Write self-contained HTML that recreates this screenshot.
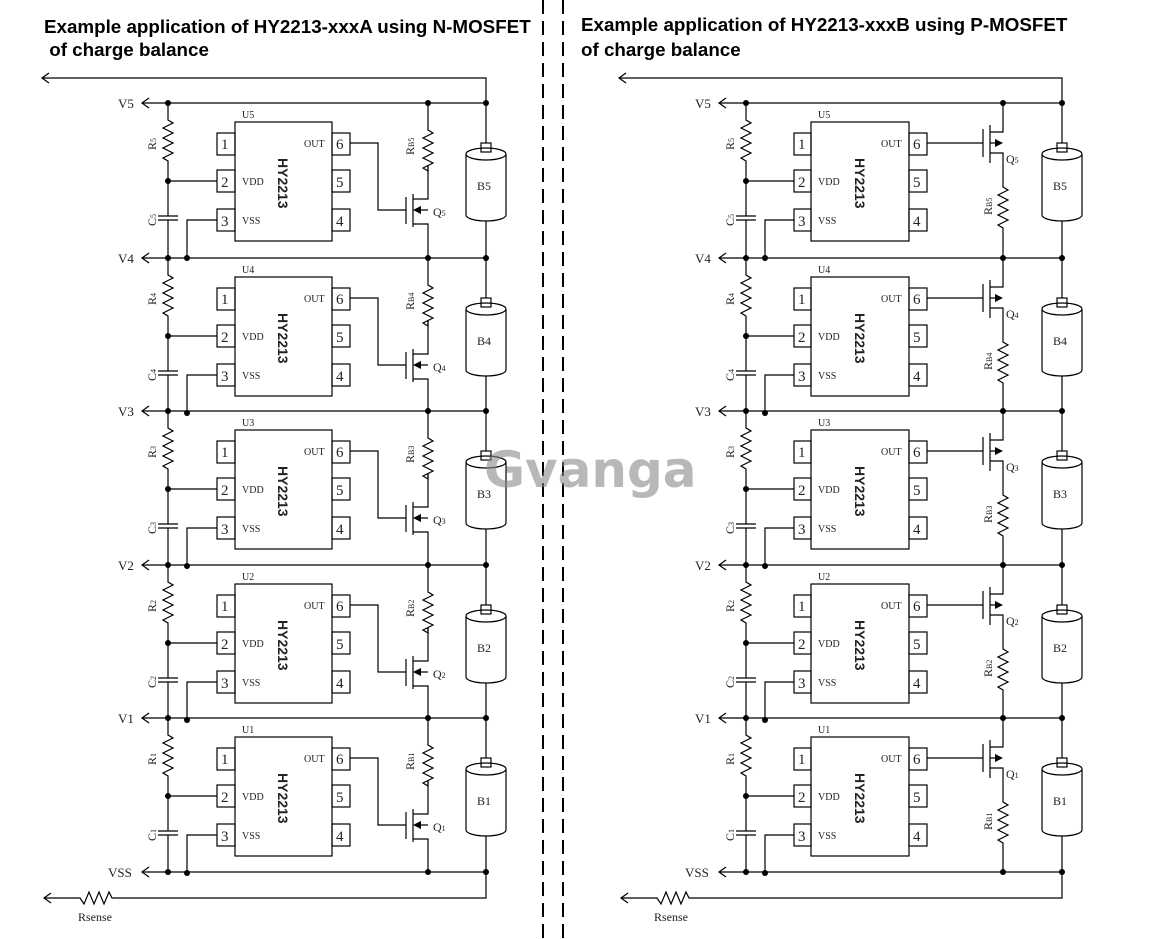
<!DOCTYPE html>
<html><head><meta charset="utf-8"><style>
body{margin:0;background:#fff}
svg{display:block}
.t{font-family:"Liberation Serif",serif;fill:#222}
.h{font-family:"Liberation Sans",sans-serif;font-weight:bold;font-size:18.8px;fill:#000}
.hy{font-family:"Liberation Sans",sans-serif;font-size:14px;font-weight:bold}
</style></head><body>
<svg width="1171" height="939" viewBox="0 0 1171 939" xmlns="http://www.w3.org/2000/svg">
<defs>
<g id="L" fill="none" stroke="#000" stroke-width="1.2">
<path d="M168 0V17l5 3-10 5 10 5-10 5 10 5-10 5 10 5-10 5 5 3V113M158 113h20M158 117h20M168 117V155"/>
<path d="M168 78H217"/>
<rect x="217" y="30" width="18" height="22"/><rect x="217" y="67" width="18" height="22"/><rect x="217" y="106" width="18" height="22"/>
<rect x="235" y="19" width="97" height="119"/>
<rect x="332" y="30" width="18" height="22"/><rect x="332" y="67" width="18" height="22"/><rect x="332" y="106" width="18" height="22"/>
<path d="M187 155V117H217"/>
<path d="M350 40H378V107H406"/>
<path d="M406 94V121M413 91V124M413 96H428V62M413 121H428V155M428 107H420"/>
<path d="M428 0V27l5 3-10 5 10 5-10 5 10 5-10 5 10 5-10 5 5 3V62"/>
<path d="M486 0V40M486 118V155"/>
<rect x="481" y="40" width="10" height="9"/>
<path d="M466 51A20 6 0 0 1 506 51V112A20 6 0 0 1 466 112ZM466 51A20 6 0 0 0 506 51"/>
</g>
<g id="Ld">
<polygon points="413,107 421,103 421,111" fill="#000"/>
<circle cx="168" cy="0" r="3"/><circle cx="428" cy="0" r="3"/><circle cx="486" cy="0" r="3"/><circle cx="168" cy="78" r="3"/><circle cx="187" cy="155" r="3"/>
</g>
<g id="R" fill="none" stroke="#000" stroke-width="1.2">
<path d="M746 0V17l5 3-10 5 10 5-10 5 10 5-10 5 10 5-10 5 5 3V113M736 113h20M736 117h20M746 117V155"/>
<path d="M746 78H794"/>
<rect x="794" y="30" width="17" height="22"/><rect x="794" y="67" width="17" height="22"/><rect x="794" y="106" width="17" height="22"/>
<rect x="811" y="19" width="98" height="119"/>
<rect x="909" y="30" width="18" height="22"/><rect x="909" y="67" width="18" height="22"/><rect x="909" y="106" width="18" height="22"/>
<path d="M765 155V117H794"/>
<path d="M927 40H983"/>
<path d="M983 26V54M990 22V60M990 29H1003V0M990 50H1003V84l5 3-10 5 10 5-10 5 10 5-10 5 10 5-10 5 5 3V155M990 40H996"/>
<path d="M1062 0V40M1062 118V155"/>
<rect x="1057" y="40" width="10" height="9"/>
<path d="M1042 51A20 6 0 0 1 1082 51V112A20 6 0 0 1 1042 112ZM1042 51A20 6 0 0 0 1082 51"/>
</g>
<g id="Rd">
<polygon points="1003,40 995,36 995,44" fill="#000"/>
<circle cx="746" cy="0" r="3"/><circle cx="1003" cy="0" r="3"/><circle cx="1062" cy="0" r="3"/><circle cx="746" cy="78" r="3"/><circle cx="765" cy="155" r="3"/>
</g>
</defs>

<text class="h" x="44" y="33">Example application of HY2213-xxxA using N-MOSFET</text>
<text class="h" x="44" y="56">&#160;of charge balance</text>
<text class="h" x="581" y="31">Example application of HY2213-xxxB using P-MOSFET</text>
<text class="h" x="581" y="56">of charge balance</text>

<g stroke="#000" stroke-width="2" stroke-dasharray="14 7"><line x1="543" y1="0" x2="543" y2="939"/><line x1="563" y1="0" x2="563" y2="939"/></g>

<g fill="none" stroke="#000" stroke-width="1.2">
<path d="M42 78H486V103M49 73l-7 5 7 5"/>
<path d="M619 78H1062V103M626 73l-7 5 7 5"/>
<path d="M142 103H486M142 258H486M142 411H486M142 565H486M142 718H486M142 872H486"/>
<path d="M149 98l-7 5 7 5M149 253l-7 5 7 5M149 406l-7 5 7 5M149 560l-7 5 7 5M149 713l-7 5 7 5M149 867l-7 5 7 5"/>
<path d="M719 103H1062M719 258H1062M719 411H1062M719 565H1062M719 718H1062M719 872H1062"/>
<path d="M726 98l-7 5 7 5M726 253l-7 5 7 5M726 406l-7 5 7 5M726 560l-7 5 7 5M726 713l-7 5 7 5M726 867l-7 5 7 5"/>
<path d="M486 872V898H112l-3 -6-5 12-5-12-5 12-5-12-5 12-4-6H44M51 893l-7 5 7 5"/>
<path d="M1062 872V898H689l-3 -6-5 12-5-12-5 12-5-12-5 12-4-6H621M628 893l-7 5 7 5"/>
</g>
<g fill="#000"><circle cx="168" cy="872" r="3"/><circle cx="428" cy="872" r="3"/><circle cx="486" cy="872" r="3"/>
<circle cx="746" cy="872" r="3"/><circle cx="1003" cy="872" r="3"/><circle cx="1062" cy="872" r="3"/></g>

<g transform="translate(0,103)"><use href="#L"/><use href="#Ld"/><use href="#R"/><use href="#Rd"/></g>
<g transform="translate(0,258)"><use href="#L"/><use href="#Ld"/><use href="#R"/><use href="#Rd"/></g>
<g transform="translate(0,411)"><use href="#L"/><use href="#Ld"/><use href="#R"/><use href="#Rd"/></g>
<g transform="translate(0,565)"><use href="#L"/><use href="#Ld"/><use href="#R"/><use href="#Rd"/></g>
<g transform="translate(0,718)"><use href="#L"/><use href="#Ld"/><use href="#R"/><use href="#Rd"/></g>

<g class="t" font-size="13">
<text x="118" y="108">V5</text><text x="118" y="263">V4</text><text x="118" y="416">V3</text><text x="118" y="570">V2</text><text x="118" y="723">V1</text><text x="108" y="877">VSS</text>
<text x="695" y="108">V5</text><text x="695" y="263">V4</text><text x="695" y="416">V3</text><text x="695" y="570">V2</text><text x="695" y="723">V1</text><text x="685" y="877">VSS</text>
<text x="78" y="921" font-size="12">Rsense</text><text x="654" y="921" font-size="12">Rsense</text>
</g>

<g class="t">
<g transform="translate(0,103)">
<text x="242" y="15" font-size="10">U5</text><text x="304" y="44" font-size="10">OUT</text><text x="242" y="82" font-size="10">VDD</text><text x="242" y="121" font-size="10">VSS</text>
<g font-size="15"><text x="221" y="46">1</text><text x="221" y="84">2</text><text x="221" y="123">3</text><text x="336" y="46">6</text><text x="336" y="84">5</text><text x="336" y="123">4</text></g>
<text transform="translate(278,55) rotate(90)" class="hy">HY2213</text>
<text transform="translate(156,47) rotate(-90)" font-size="12">R<tspan font-size="8">5</tspan></text>
<text transform="translate(156,123) rotate(-90)" font-size="12">C<tspan font-size="8">5</tspan></text>
<text transform="translate(414,52) rotate(-90)" font-size="12">R<tspan font-size="8">B5</tspan></text>
<text x="433" y="113" font-size="12">Q<tspan font-size="8">5</tspan></text>
<text x="477" y="87" font-size="12">B5</text>
<text x="818" y="15" font-size="10">U5</text><text x="881" y="44" font-size="10">OUT</text><text x="818" y="82" font-size="10">VDD</text><text x="818" y="121" font-size="10">VSS</text>
<g font-size="15"><text x="798" y="46">1</text><text x="798" y="84">2</text><text x="798" y="123">3</text><text x="913" y="46">6</text><text x="913" y="84">5</text><text x="913" y="123">4</text></g>
<text transform="translate(855,55) rotate(90)" class="hy">HY2213</text>
<text transform="translate(734,47) rotate(-90)" font-size="12">R<tspan font-size="8">5</tspan></text>
<text transform="translate(734,123) rotate(-90)" font-size="12">C<tspan font-size="8">5</tspan></text>
<text transform="translate(992,112) rotate(-90)" font-size="12">R<tspan font-size="8">B5</tspan></text>
<text x="1006" y="60" font-size="12">Q<tspan font-size="8">5</tspan></text>
<text x="1053" y="87" font-size="12">B5</text>
</g>
<g transform="translate(0,258)">
<text x="242" y="15" font-size="10">U4</text><text x="304" y="44" font-size="10">OUT</text><text x="242" y="82" font-size="10">VDD</text><text x="242" y="121" font-size="10">VSS</text>
<g font-size="15"><text x="221" y="46">1</text><text x="221" y="84">2</text><text x="221" y="123">3</text><text x="336" y="46">6</text><text x="336" y="84">5</text><text x="336" y="123">4</text></g>
<text transform="translate(278,55) rotate(90)" class="hy">HY2213</text>
<text transform="translate(156,47) rotate(-90)" font-size="12">R<tspan font-size="8">4</tspan></text>
<text transform="translate(156,123) rotate(-90)" font-size="12">C<tspan font-size="8">4</tspan></text>
<text transform="translate(414,52) rotate(-90)" font-size="12">R<tspan font-size="8">B4</tspan></text>
<text x="433" y="113" font-size="12">Q<tspan font-size="8">4</tspan></text>
<text x="477" y="87" font-size="12">B4</text>
<text x="818" y="15" font-size="10">U4</text><text x="881" y="44" font-size="10">OUT</text><text x="818" y="82" font-size="10">VDD</text><text x="818" y="121" font-size="10">VSS</text>
<g font-size="15"><text x="798" y="46">1</text><text x="798" y="84">2</text><text x="798" y="123">3</text><text x="913" y="46">6</text><text x="913" y="84">5</text><text x="913" y="123">4</text></g>
<text transform="translate(855,55) rotate(90)" class="hy">HY2213</text>
<text transform="translate(734,47) rotate(-90)" font-size="12">R<tspan font-size="8">4</tspan></text>
<text transform="translate(734,123) rotate(-90)" font-size="12">C<tspan font-size="8">4</tspan></text>
<text transform="translate(992,112) rotate(-90)" font-size="12">R<tspan font-size="8">B4</tspan></text>
<text x="1006" y="60" font-size="12">Q<tspan font-size="8">4</tspan></text>
<text x="1053" y="87" font-size="12">B4</text>
</g>
<g transform="translate(0,411)">
<text x="242" y="15" font-size="10">U3</text><text x="304" y="44" font-size="10">OUT</text><text x="242" y="82" font-size="10">VDD</text><text x="242" y="121" font-size="10">VSS</text>
<g font-size="15"><text x="221" y="46">1</text><text x="221" y="84">2</text><text x="221" y="123">3</text><text x="336" y="46">6</text><text x="336" y="84">5</text><text x="336" y="123">4</text></g>
<text transform="translate(278,55) rotate(90)" class="hy">HY2213</text>
<text transform="translate(156,47) rotate(-90)" font-size="12">R<tspan font-size="8">3</tspan></text>
<text transform="translate(156,123) rotate(-90)" font-size="12">C<tspan font-size="8">3</tspan></text>
<text transform="translate(414,52) rotate(-90)" font-size="12">R<tspan font-size="8">B3</tspan></text>
<text x="433" y="113" font-size="12">Q<tspan font-size="8">3</tspan></text>
<text x="477" y="87" font-size="12">B3</text>
<text x="818" y="15" font-size="10">U3</text><text x="881" y="44" font-size="10">OUT</text><text x="818" y="82" font-size="10">VDD</text><text x="818" y="121" font-size="10">VSS</text>
<g font-size="15"><text x="798" y="46">1</text><text x="798" y="84">2</text><text x="798" y="123">3</text><text x="913" y="46">6</text><text x="913" y="84">5</text><text x="913" y="123">4</text></g>
<text transform="translate(855,55) rotate(90)" class="hy">HY2213</text>
<text transform="translate(734,47) rotate(-90)" font-size="12">R<tspan font-size="8">3</tspan></text>
<text transform="translate(734,123) rotate(-90)" font-size="12">C<tspan font-size="8">3</tspan></text>
<text transform="translate(992,112) rotate(-90)" font-size="12">R<tspan font-size="8">B3</tspan></text>
<text x="1006" y="60" font-size="12">Q<tspan font-size="8">3</tspan></text>
<text x="1053" y="87" font-size="12">B3</text>
</g>
<g transform="translate(0,565)">
<text x="242" y="15" font-size="10">U2</text><text x="304" y="44" font-size="10">OUT</text><text x="242" y="82" font-size="10">VDD</text><text x="242" y="121" font-size="10">VSS</text>
<g font-size="15"><text x="221" y="46">1</text><text x="221" y="84">2</text><text x="221" y="123">3</text><text x="336" y="46">6</text><text x="336" y="84">5</text><text x="336" y="123">4</text></g>
<text transform="translate(278,55) rotate(90)" class="hy">HY2213</text>
<text transform="translate(156,47) rotate(-90)" font-size="12">R<tspan font-size="8">2</tspan></text>
<text transform="translate(156,123) rotate(-90)" font-size="12">C<tspan font-size="8">2</tspan></text>
<text transform="translate(414,52) rotate(-90)" font-size="12">R<tspan font-size="8">B2</tspan></text>
<text x="433" y="113" font-size="12">Q<tspan font-size="8">2</tspan></text>
<text x="477" y="87" font-size="12">B2</text>
<text x="818" y="15" font-size="10">U2</text><text x="881" y="44" font-size="10">OUT</text><text x="818" y="82" font-size="10">VDD</text><text x="818" y="121" font-size="10">VSS</text>
<g font-size="15"><text x="798" y="46">1</text><text x="798" y="84">2</text><text x="798" y="123">3</text><text x="913" y="46">6</text><text x="913" y="84">5</text><text x="913" y="123">4</text></g>
<text transform="translate(855,55) rotate(90)" class="hy">HY2213</text>
<text transform="translate(734,47) rotate(-90)" font-size="12">R<tspan font-size="8">2</tspan></text>
<text transform="translate(734,123) rotate(-90)" font-size="12">C<tspan font-size="8">2</tspan></text>
<text transform="translate(992,112) rotate(-90)" font-size="12">R<tspan font-size="8">B2</tspan></text>
<text x="1006" y="60" font-size="12">Q<tspan font-size="8">2</tspan></text>
<text x="1053" y="87" font-size="12">B2</text>
</g>
<g transform="translate(0,718)">
<text x="242" y="15" font-size="10">U1</text><text x="304" y="44" font-size="10">OUT</text><text x="242" y="82" font-size="10">VDD</text><text x="242" y="121" font-size="10">VSS</text>
<g font-size="15"><text x="221" y="46">1</text><text x="221" y="84">2</text><text x="221" y="123">3</text><text x="336" y="46">6</text><text x="336" y="84">5</text><text x="336" y="123">4</text></g>
<text transform="translate(278,55) rotate(90)" class="hy">HY2213</text>
<text transform="translate(156,47) rotate(-90)" font-size="12">R<tspan font-size="8">1</tspan></text>
<text transform="translate(156,123) rotate(-90)" font-size="12">C<tspan font-size="8">1</tspan></text>
<text transform="translate(414,52) rotate(-90)" font-size="12">R<tspan font-size="8">B1</tspan></text>
<text x="433" y="113" font-size="12">Q<tspan font-size="8">1</tspan></text>
<text x="477" y="87" font-size="12">B1</text>
<text x="818" y="15" font-size="10">U1</text><text x="881" y="44" font-size="10">OUT</text><text x="818" y="82" font-size="10">VDD</text><text x="818" y="121" font-size="10">VSS</text>
<g font-size="15"><text x="798" y="46">1</text><text x="798" y="84">2</text><text x="798" y="123">3</text><text x="913" y="46">6</text><text x="913" y="84">5</text><text x="913" y="123">4</text></g>
<text transform="translate(855,55) rotate(90)" class="hy">HY2213</text>
<text transform="translate(734,47) rotate(-90)" font-size="12">R<tspan font-size="8">1</tspan></text>
<text transform="translate(734,123) rotate(-90)" font-size="12">C<tspan font-size="8">1</tspan></text>
<text transform="translate(992,112) rotate(-90)" font-size="12">R<tspan font-size="8">B1</tspan></text>
<text x="1006" y="60" font-size="12">Q<tspan font-size="8">1</tspan></text>
<text x="1053" y="87" font-size="12">B1</text>
</g>
</g>

<text x="484" y="487" font-family="DejaVu Sans,sans-serif" font-weight="bold" font-size="50" fill="#888" fill-opacity="0.6">Gvanga</text>
</svg>
</body></html>
